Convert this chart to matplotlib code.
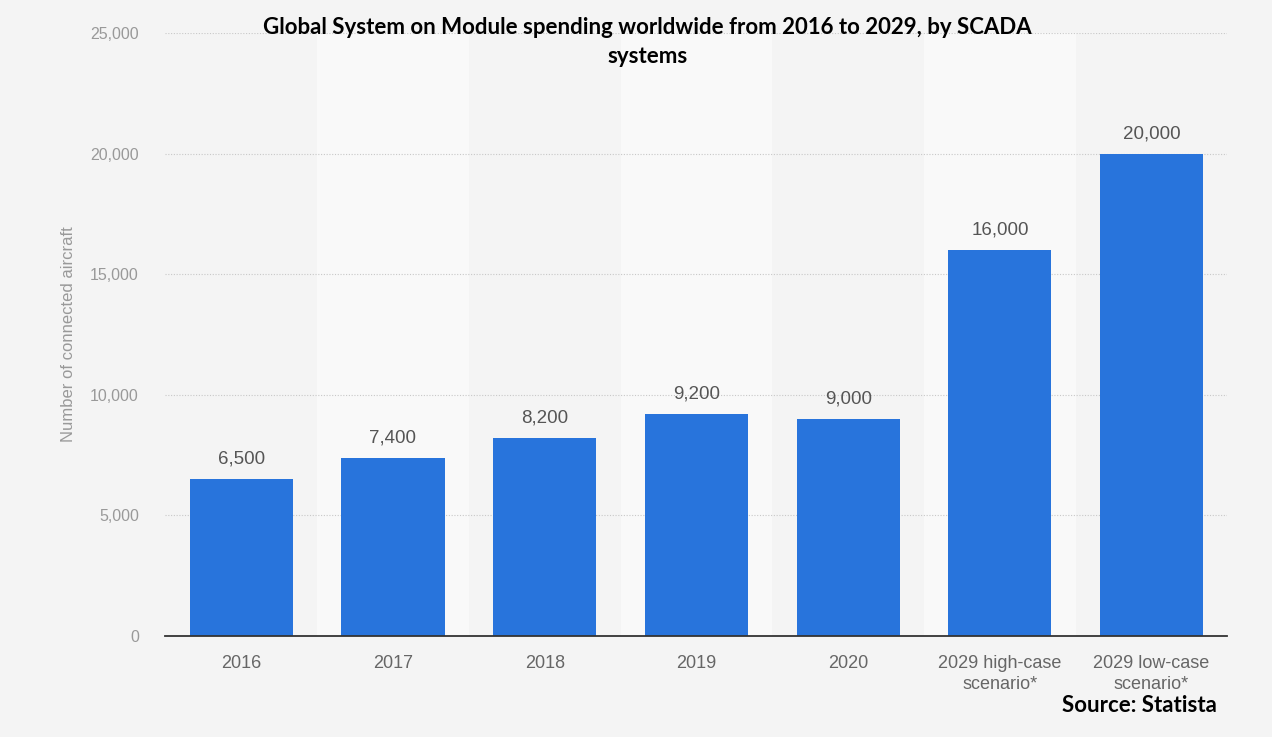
import matplotlib
matplotlib.use('Agg')
import matplotlib.pyplot as plt
import numpy as np

categories = ["2016", "2017", "2018", "2019", "2020",
              "2029 high-case\nscenario*", "2029 low-case\nscenario*"]
values = [6500, 7400, 8200, 9200, 9000, 16000, 20000]
yticks = [0, 5000, 10000, 15000, 20000, 25000]

BG = "#f4f4f4"
BAND = "#f9f9f9"
BAR = "#2874dc"
GREY = "#999999"

fig = plt.figure(figsize=(12.72, 7.37), dpi=100, facecolor=BG)
ax = fig.add_axes([0.130, 0.137, 0.835, 0.818])
ax.set_facecolor(BG)

x = np.arange(len(categories))

# alternating column bands
for i in x:
    if i % 2 == 1:
        ax.axvspan(i - 0.5, i + 0.5, color=BAND, zorder=0, lw=0)

for t in yticks[1:]:
    ax.axhline(t, color="#c8c8c8", lw=0.8, ls=(0, (1, 1.5)), zorder=1)

ax.bar(x, values, width=0.68, color=BAR, zorder=2)
for xi, v in zip(x, values):
    ax.text(xi, v + 480, f"{v:,}", ha="center", va="bottom",
            fontsize=13.5, color="#555555", family="Liberation Sans")

ax.set_xlim(-0.5, len(categories) - 0.5)
ax.set_ylim(0, 25000)
ax.set_yticks(yticks)
ax.set_yticklabels([f"{t:,}" for t in yticks], family="Liberation Sans",
                   fontsize=11.5, color=GREY)
ax.set_xticks(x)
ax.set_xticklabels(categories, family="Liberation Sans", fontsize=13,
                   color="#666666", linespacing=1.3)
ax.tick_params(axis="both", length=0)
ax.tick_params(axis="x", pad=14)
ax.tick_params(axis="y", pad=19)

for s in ["top", "right", "left"]:
    ax.spines[s].set_visible(False)
ax.spines["bottom"].set_color("#333333")
ax.spines["bottom"].set_linewidth(1.3)

ax.set_ylabel("Number of connected aircraft", family="Liberation Sans",
              fontsize=12, color=GREY)
ax.yaxis.set_label_coords(-0.084, 0.5)

fig.text(0.509, 0.963, "Global System on Module spending worldwide from 2016 to 2029, by SCADA",
         ha="center", va="center", fontsize=16, fontweight="bold", family="Lato")
fig.text(0.509, 0.923, "systems",
         ha="center", va="center", fontsize=16, fontweight="bold", family="Lato")
fig.text(0.957, 0.043, "Source: Statista", ha="right", va="center",
         fontsize=16, fontweight="bold", family="Lato")

fig.savefig("out.png", dpi=100, facecolor=BG)
